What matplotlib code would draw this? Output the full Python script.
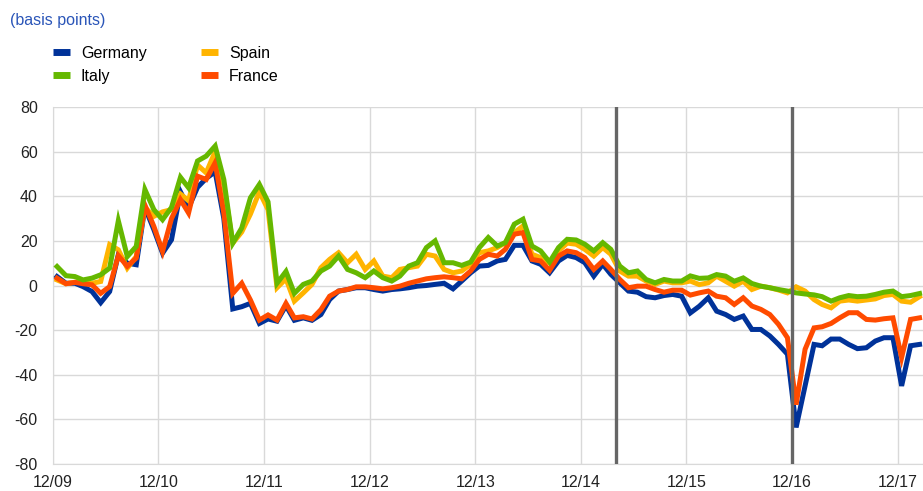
import numpy as np
import pandas as pd
import matplotlib
matplotlib.use("Agg")
import matplotlib.pyplot as plt
from matplotlib.lines import Line2D

plt.rcParams['font.family'] = ['Liberation Sans', 'DejaVu Sans']
plt.rcParams['axes.unicode_minus'] = False

# monthly values, Dec 2009 onwards (basis points)
germany = [4, 1, 1, -0.5, -2.7, -7.7, -2.7, 13.8, 10, 9.3,
           35, 25, 14.5, 20.5, 42, 34.8, 44, 48, 51, 30,
           -10.5, -9.5, -8, -17, -15, -16, -9, -15.6, -14.5, -15.6,
           -13, -6.3, -2.5, -1.8, -1, -1, -1.8, -2.5, -1.8, -1.5,
           -1, -0.3, 0, 0.5, 1, -1.5, 2, 5.7, 8.7, 9,
           11, 11.7, 18, 18, 11, 9.5, 5.7, 11, 13.5, 12.5,
           10.2, 4.2, 9.5, 5, 1.2, -2.5, -3, -5, -5.5, -4.5,
           -4, -4.8, -12.3, -9.3, -5.5, -11.5, -13, -15.2, -13.7, -19.7,
           -19.7, -22.6, -26.4, -30.8, -63.6, -45, -26.4, -27, -24, -24,
           -26.4, -28.3, -27.9, -24.9, -23.4, -23.4, -45, -27, -26.4]
spain = [2.5, 0.8, 1.5, 1.4, 1, 1.8, 18.3, 16, 7.8, 13,
         35, 31, 33, 34, 41, 38, 54, 50.5, 60, 45,
         19, 24, 32, 42, 34, -1, 3, -7, -3.3, 0.5,
         8, 11.7, 14.7, 10.2, 14, 7.2, 11, 4.2, 3.5, 7.2,
         8, 8.7, 14, 13.2, 7.2, 5.7, 6.5, 9.5, 14.7, 15.5,
         17, 19.2, 23.7, 26.7, 14, 12.5, 10, 15.5, 19, 18.5,
         16.2, 13.2, 17, 14, 6.5, 4.2, 4.2, 2, 0.5, 2,
         1.2, 1.2, 2, 0.4, 1.2, 4.2, 1.9, -0.3, 1.9, -1.8,
         -0.3, -1, -2, -3.3, -0.6, -2.5, -6.3, -8.5, -10, -7,
         -6.5, -7, -6.5, -6, -4.5, -4, -7, -7.5, -5]
italy = [8.5, 4.4, 4, 2.5, 3.3, 4.8, 7.8, 29, 13, 17.5,
         43, 34, 29.5, 35, 48.5, 43.8, 55.8, 58, 62.5, 47.5,
         19, 25.8, 39.3, 45.3, 37.5, 1, 6.3, -3.5, 0.5, 2,
         6.5, 8.7, 13.2, 7.2, 5.7, 3.5, 6.5, 3.5, 2, 4.2,
         8.7, 10.2, 17, 20, 10.2, 10.2, 9, 10.5, 17, 21.5,
         17.7, 19.2, 27.5, 29.7, 17.7, 15.5, 10.5, 17, 20.7, 20.4,
         18.5, 15.5, 19.2, 16.2, 8.7, 5.7, 6.5, 2.7, 1.2, 2.7,
         2, 2, 4.3, 3.2, 3.4, 4.9, 4.2, 1.9, 3.4, 0.9,
         -0.3, -1, -1.8, -2.5, -3.3, -3.8, -4.2, -5, -7, -5.5,
         -4.5, -5, -4.8, -4, -3, -2.5, -5, -4.5, -3.6]
france = [3.3, 0.8, 1.4, 0.8, 0.3, -3.5, -0.5, 13.4, 8.6, 12.3,
          36, 26.5, 15.3, 30, 38.5, 32.5, 49, 47.5, 55, 32.5,
          -3.5, 1, -6.5, -15.5, -13.2, -15.5, -8, -14.5, -14, -15,
          -10.8, -4.8, -2.5, -1.8, -0.6, -0.6, -1, -1.5, -1, -0.3,
          1, 2, 3, 3.5, 3.9, 3.5, 3, 6.5, 11.7, 14,
          13.2, 16.2, 23, 23.7, 11.7, 11, 6.8, 13.2, 15.5, 14.7,
          12.5, 7.2, 11, 7.2, 2.7, -1, -0.3, -0.3, -1.8, -3,
          -2.1, -2.1, -4.3, -3.3, -2.5, -4.8, -5.5, -8.5, -5.5, -9.2,
          -10.7, -13, -17.4, -23.4, -53.4, -28.6, -19, -18.5, -17, -14.5,
          -12.2, -12.2, -15.2, -15.5, -14.9, -14.5, -32.3, -15.2, -14.5]

event_dates = ['2015-04-01', '2016-12-01']
tick_labels = ['12/09', '12/10', '12/11', '12/12', '12/13', '12/14', '12/15', '12/16', '12/17']

months = pd.period_range('2009-12', periods=len(germany), freq='M')
dates = months.to_timestamp(how='start') + pd.Timedelta(days=14)

colors = {'Germany': '#003299', 'Spain': '#FFB400', 'Italy': '#65B800', 'France': '#FF4B00'}

fig = plt.figure(figsize=(9.23, 4.91), dpi=100)
ax = fig.add_axes([53 / 923, 1 - 464 / 491, 1 - 53 / 923, (464 - 107) / 491])

lw = 3.6
ax.plot(dates, germany, color=colors['Germany'], lw=lw, solid_joinstyle='miter', zorder=3)
ax.plot(dates, spain, color=colors['Spain'], lw=lw, solid_joinstyle='miter', zorder=4)
ax.plot(dates, france, color=colors['France'], lw=lw, solid_joinstyle='miter', zorder=5)
ax.plot(dates, italy, color=colors['Italy'], lw=lw, solid_joinstyle='miter', zorder=6)

for d in event_dates:
    ax.axvline(pd.Timestamp(d), color='#666666', lw=2.4, zorder=7)

ax.set_yticks(np.arange(-80, 81, 20))
ax.set_ylim(-80, 80)
ticks = [pd.Timestamp(f'{2009 + i}-12-01') for i in range(len(tick_labels))]
ax.set_xticks(ticks)
ax.set_xticklabels(tick_labels)
ax.set_xlim(pd.Timestamp('2009-12-01'), pd.Timestamp('2018-02-27'))

ax.grid(True, color='#d9d9d9', lw=1.0, zorder=0)
ax.set_axisbelow(True)
for s in ['top', 'right']:
    ax.spines[s].set_visible(False)
ax.spines['left'].set_color('#d9d9d9')
ax.spines['bottom'].set_color('#d9d9d9')
ax.tick_params(axis='both', length=0, labelsize=11.5, colors='#222222')
ax.tick_params(axis='y', pad=11)
ax.tick_params(axis='x', pad=8)

fig.text(10 / 923, 1 - 21 / 491, '(basis points)', color='#2a55b8', fontsize=11.5, va='center', ha='left')

names = ['Germany', 'Italy', 'Spain', 'France']
handles = [Line2D([0], [0], color=colors[n], lw=5, solid_capstyle='butt') for n in names]
fig.legend(handles, names, loc='upper left', bbox_to_anchor=(53 / 923, 1 - 46 / 491),
           ncol=2, frameon=False, fontsize=11.5, handlelength=1.05, handletextpad=0.7,
           columnspacing=3.4, labelspacing=0.5, borderpad=0, borderaxespad=0)

fig.savefig('out.png', dpi=100)
